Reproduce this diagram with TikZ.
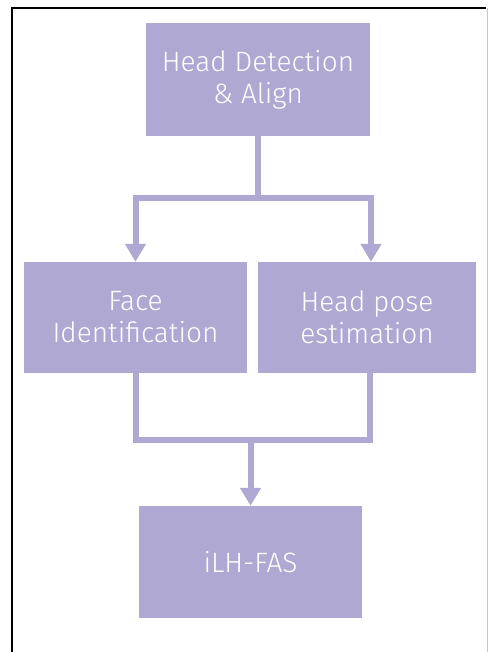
\documentclass[tikz,border=0pt]{standalone}
\usepackage{fontspec}
\setmainfont{Fira Sans}[UprightFont=* Light]
\usetikzlibrary{arrows.meta}
\definecolor{boxpurple}{HTML}{AEA8D3}
\tikzset{
  stepbox/.style={fill=boxpurple, draw=none, text=white, align=center,
    inner sep=0pt, font=\fontsize{28}{32}\selectfont},
  conn/.style={draw=boxpurple, line width=6pt},
  arr/.style={conn, -{Triangle[length=18pt,width=20pt]}, shorten >=0pt},
}
\begin{document}
\begin{tikzpicture}[x=1pt,y=1pt]
\useasboundingbox (0,0) rectangle (488,-652);
\draw[black, line width=2.5pt] (12,-652) -- (12,-8) -- (486,-8);
\draw[gray!45, line width=1pt] (487,-8) -- (487,-652);

\node[stepbox, minimum width=224pt, minimum height=113pt] (top) at (258,-79.5) {Head Detection\\\& Align};
\node[stepbox, minimum width=223pt, minimum height=111pt] (left) at (135.5,-317.5) {Face\\Identification};
\node[stepbox, minimum width=218pt, minimum height=111pt] (right) at (367,-317.5) {Head pose\\estimation};
\node[stepbox, minimum width=223pt, minimum height=112pt] (bottom) at (250.5,-562) {iLH-FAS};

\coordinate (s1) at (258,-198.5);
\coordinate (m1) at (250.5,-439.5);

\draw[conn] (top.south) -- (s1);
\draw[conn] (135.5,-198.5) -- (371,-198.5);
\draw[arr] (s1) -| (left.north);
\draw[arr] (s1) -| ([xshift=4pt]right.north);

\draw[conn] (left.south) |- (m1);
\draw[conn] ([xshift=3pt]right.south) |- (m1);
\draw[arr] (m1) -- (bottom.north);
\end{tikzpicture}
\end{document}
